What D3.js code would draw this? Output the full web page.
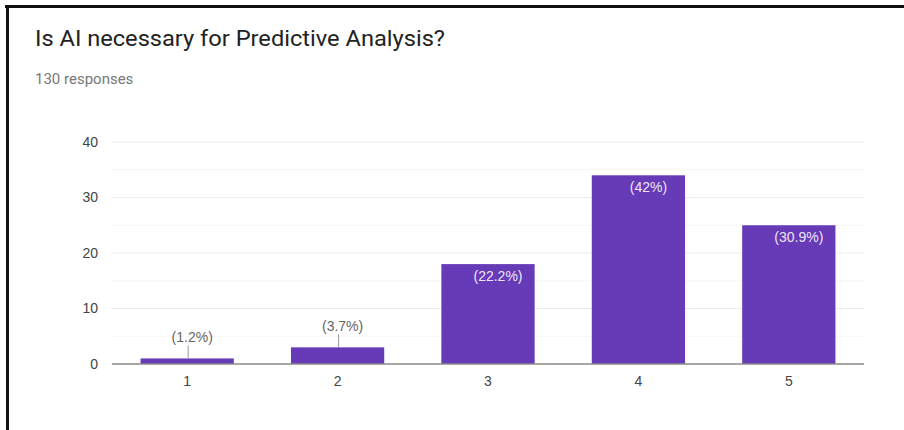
<!DOCTYPE html>
<html>
<head>
<meta charset="utf-8">
<script src="https://cdn.jsdelivr.net/npm/d3@7"></script>
<style>
  html, body { margin: 0; padding: 0; background: #fff; }
  svg { display: block; }
</style>
</head>
<body>
<svg id="chart" width="904" height="430"></svg>
<script>
// Survey answers on a 1–5 scale and the number of people choosing each
const categories = ["1", "2", "3", "4", "5"];
const counts = [1, 3, 18, 34, 25];
const percentLabels = ["(1.2%)", "(3.7%)", "(22.2%)", "(42%)", "(30.9%)"];
const yTicks = [0, 10, 20, 30, 40];
const yMinorTicks = [5, 15, 25, 35];

const title = "Is AI necessary for Predictive Analysis?";
const subtitle = "130 responses";

const svg = d3.select("#chart");
const W = 904, H = 430;
const margin = { left: 112, right: 40, top: 142, bottom: 66 };
const plotW = W - margin.left - margin.right;
const plotH = H - margin.top - margin.bottom;

svg.append("rect").attr("width", W).attr("height", H).attr("fill", "#fff");

// Frame lines along the top and left edges
svg.append("rect").attr("x", 5).attr("y", 5).attr("width", W - 5).attr("height", 3).attr("fill", "#111");
svg.append("rect").attr("x", 6).attr("y", 5).attr("width", 3).attr("height", H - 5).attr("fill", "#111");

// Header
svg.append("text")
  .attr("x", 35).attr("y", 46)
  .attr("font-family", "Roboto, 'Noto Sans', sans-serif")
  .attr("font-size", 22)
  .attr("fill", "#222")
  .attr("textLength", 410)
  .attr("lengthAdjust", "spacingAndGlyphs")
  .text(title);
svg.append("text")
  .attr("x", 35).attr("y", 84)
  .attr("font-family", "Roboto, 'Noto Sans', sans-serif")
  .attr("font-size", 15)
  .attr("fill", "#777")
  .text(subtitle);

const g = svg.append("g").attr("transform", `translate(${margin.left},${margin.top})`);

const x = d3.scaleBand().domain(categories).range([0, plotW]).paddingInner(0.38).paddingOuter(0.19);
const y = d3.scaleLinear().domain([0, 40]).range([plotH, 0]);

// Gridlines
g.selectAll("line.minor").data(yMinorTicks).join("line")
  .attr("class", "minor")
  .attr("x1", 0).attr("x2", plotW)
  .attr("y1", d => y(d)).attr("y2", d => y(d))
  .attr("stroke", "#f6f6f6").attr("stroke-width", 1);
g.selectAll("line.major").data(yTicks.filter(d => d > 0)).join("line")
  .attr("class", "major")
  .attr("x1", 0).attr("x2", plotW)
  .attr("y1", d => y(d)).attr("y2", d => y(d))
  .attr("stroke", "#ececec").attr("stroke-width", 1);

// Y axis labels
const yAxis = g.append("g").call(d3.axisLeft(y).tickValues(yTicks).tickSize(0).tickPadding(14));
yAxis.select(".domain").remove();
yAxis.selectAll("text")
  .attr("font-family", "Arial, 'Liberation Sans', sans-serif")
  .attr("font-size", 14).attr("fill", "#444");

// Bars
const bars = categories.map((c, i) => ({ c, v: counts[i], label: percentLabels[i] }));
g.selectAll("rect.bar").data(bars).join("rect")
  .attr("class", "bar")
  .attr("x", d => x(d.c))
  .attr("y", d => y(d.v))
  .attr("width", x.bandwidth())
  .attr("height", d => y(0) - y(d.v))
  .attr("fill", "#673ab7");

// Baseline
g.append("line")
  .attr("x1", 0).attr("x2", plotW)
  .attr("y1", y(0)).attr("y2", y(0))
  .attr("stroke", "#8a8a8a").attr("stroke-width", 1.5);

// X axis labels
const xAxis = g.append("g").attr("transform", `translate(0,${plotH})`)
  .call(d3.axisBottom(x).tickSize(0).tickPadding(12));
xAxis.select(".domain").remove();
xAxis.selectAll("text")
  .attr("font-family", "Arial, 'Liberation Sans', sans-serif")
  .attr("font-size", 14).attr("fill", "#444");

// Value labels: inside tall bars, above short bars with a leader line
const fits = d => (y(0) - y(d.v)) > 30;
const labelFont = "Arial, 'Liberation Sans', sans-serif";

g.selectAll("text.inside").data(bars.filter(fits)).join("text")
  .attr("class", "inside")
  .attr("x", d => x(d.c) + x.bandwidth() / 2 + 10)
  .attr("y", d => y(d.v) + 17)
  .attr("text-anchor", "middle")
  .attr("font-family", labelFont).attr("font-size", 14)
  .attr("fill", "#fff").attr("fill-opacity", 0.9)
  .text(d => d.label);

const outside = bars.filter(d => !fits(d));
g.selectAll("line.leader").data(outside).join("line")
  .attr("class", "leader")
  .attr("x1", d => x(d.c) + x.bandwidth() / 2 + 1)
  .attr("x2", d => x(d.c) + x.bandwidth() / 2 + 1)
  .attr("y1", d => y(d.v))
  .attr("y2", d => y(d.v) - 13)
  .attr("stroke", "#999").attr("stroke-width", 1);
g.selectAll("text.outside").data(outside).join("text")
  .attr("class", "outside")
  .attr("x", d => x(d.c) + x.bandwidth() / 2 + 5)
  .attr("y", d => y(d.v) - 16)
  .attr("text-anchor", "middle")
  .attr("font-family", labelFont).attr("font-size", 14)
  .attr("fill", "#666")
  .text(d => d.label);
</script>
</body>
</html>
